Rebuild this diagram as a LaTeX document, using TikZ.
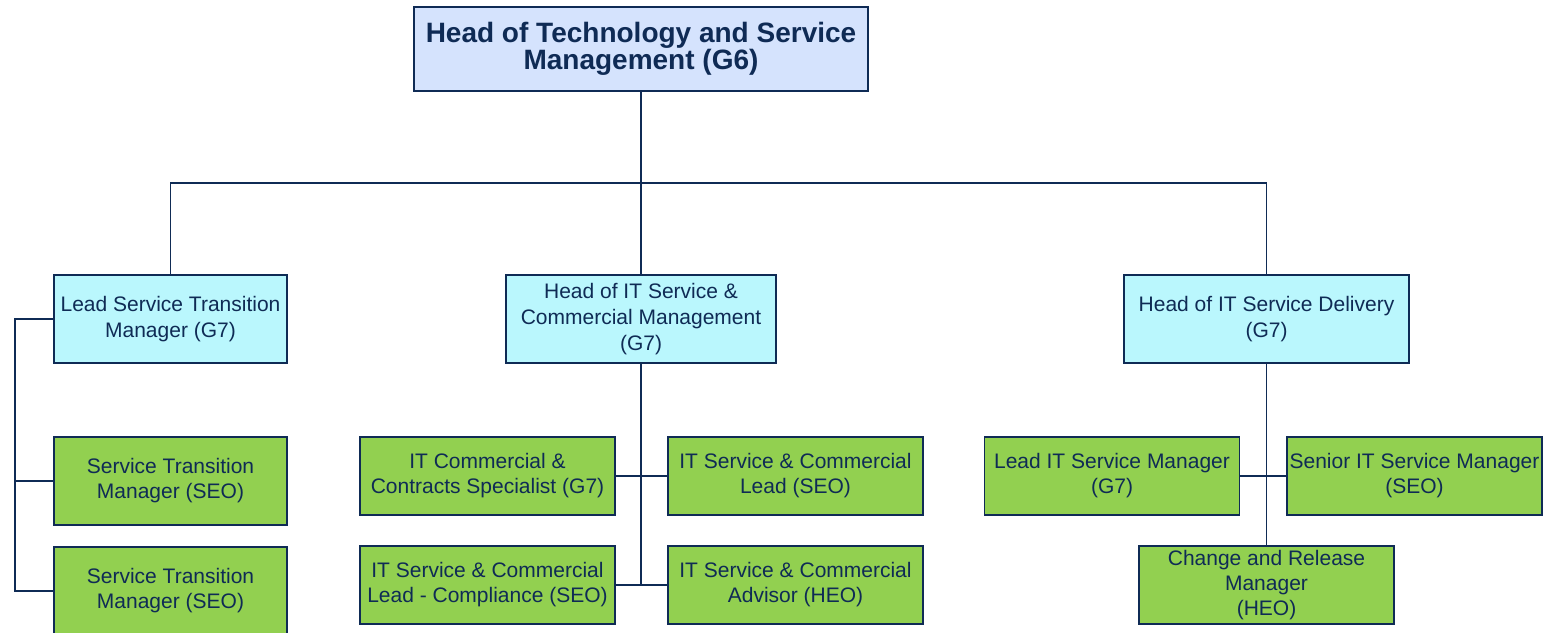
\documentclass[tikz,border=0pt]{standalone}
\usepackage{fontspec}
\setmainfont{Liberation Sans}
\usepackage{tikz}
\usepackage{xcolor}
\definecolor{navy}{HTML}{0F2B55}
\definecolor{topblue}{HTML}{D5E3FD}
\definecolor{midcyan}{HTML}{BAF7FD}
\definecolor{staffgreen}{HTML}{92D050}
\tikzset{
    org-box/.style = {draw=navy, line width=1.8pt, rectangle, text=navy, align=center, inner sep=0pt},
    head-box/.style = {org-box, fill=topblue, minimum width=454pt, minimum height=84pt, font=\fontsize{28}{27}\selectfont\bfseries},
    lead-box/.style = {org-box, fill=midcyan, minimum height=88pt, font=\fontsize{21}{26}\selectfont},
    staff-box/.style = {org-box, fill=staffgreen, minimum width=255pt, minimum height=78pt, font=\fontsize{21}{25}\selectfont},
    org-line/.style = {draw=navy, line width=1.2pt},
    team-line/.style = {draw=navy, line width=1.8pt},
}

\begin{document}
\begin{tikzpicture}[x=1pt, y=-1pt]
\useasboundingbox (0,0) rectangle (1546,632);

% top level
\node [head-box] (head) at (641,49) {Head of Technology and Service\\Management (G6)};
\coordinate (bus) at (641,183);
\coordinate (rail) at (15,0);

% second level
\node [lead-box, minimum width=233pt] (transition) at (170.5,319) {Lead Service Transition\\Manager (G7)};
\node [lead-box, minimum width=270pt] (commercial) at (641,319) {Head of IT Service \&\\Commercial Management\\(G7)};
\node [lead-box, minimum width=285pt] (delivery) at (1266.5,319) {Head of IT Service Delivery\\(G7)};

% transition team
\node [staff-box, minimum width=233pt, minimum height=88pt] (stm-a) at (170.5,481) {Service Transition\\Manager (SEO)};
\node [staff-box, minimum width=233pt, minimum height=88pt] (stm-b) at (170.5,591) {Service Transition\\Manager (SEO)};

% commercial team
\node [staff-box] (contracts) at (487.5,476) {IT Commercial \&\\Contracts Specialist (G7)};
\node [staff-box] (sc-lead) at (795.5,476) {IT Service \& Commercial\\Lead (SEO)};
\node [staff-box] (compliance) at (487.5,585) {IT Service \& Commercial\\Lead - Compliance (SEO)};
\node [staff-box] (advisor) at (795.5,585) {IT Service \& Commercial\\Advisor (HEO)};

% delivery team
\node [staff-box] (lead-ism) at (1112,476) {Lead IT Service Manager\\(G7)};
\node [staff-box] (senior-ism) at (1414.5,476) {Senior IT Service Manager\\(SEO)};
\node [staff-box] (release) at (1266.5,585) {Change and Release\\Manager\\(HEO)};

% connectors
\draw [org-line] (head.south) -- (commercial.north);
\draw [org-line] (transition.north) -- (transition.north |- bus) -- (delivery.north |- bus) -- (delivery.north);

\draw [team-line] (transition.west) -- (transition.west -| rail) -- (stm-b.west -| rail) -- (stm-b.west);
\draw [team-line] (stm-a.west) -- (stm-a.west -| rail);

\draw [team-line] (commercial.south) -- (commercial.south |- compliance.east);
\draw [team-line] (contracts.east) -- (sc-lead.west);
\draw [team-line] (compliance.east) -- (advisor.west);

\draw [team-line] (delivery.south) -- (release.north);
\draw [team-line] (lead-ism.east) -- (senior-ism.west);
\end{tikzpicture}
\end{document}
